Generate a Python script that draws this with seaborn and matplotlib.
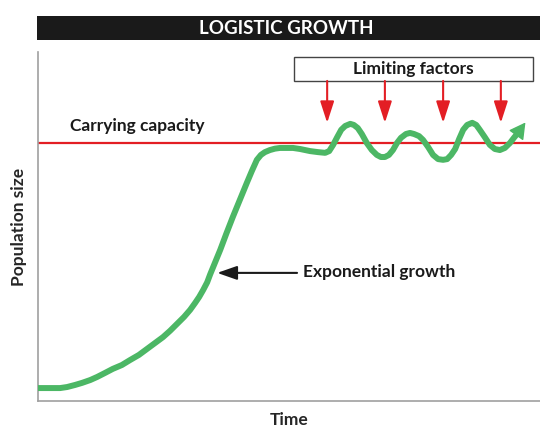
import matplotlib
matplotlib.use('Agg')
import matplotlib.pyplot as plt
from matplotlib.patches import Rectangle
import pandas as pd
import seaborn as sns

# dados (tempo 0-100, tamanho da populacao 0-100)
time = [0.0, 2.8, 4.4, 5.8, 7.4, 8.8, 10.4, 11.8, 13.3, 14.9, 16.7, 18.3, 20.1, 21.7,
        23.3, 24.9, 26.3, 27.7, 29.1, 30.3, 31.3, 32.1, 32.9, 33.7, 34.3, 35.3, 36.3,
        37.5, 38.8, 40.2, 41.6, 42.6, 43.6, 44.4, 45.2, 46.2, 47.2, 48.2, 49.6, 50.8,
        52.2, 54.2, 55.8, 57.2,
        58.0, 58.8, 59.6, 60.4, 61.2, 62.2, 62.9, 63.7, 64.5, 65.5, 66.5, 67.5, 68.3,
        69.1, 69.9, 70.7, 71.5, 72.3, 73.3, 74.1, 74.9, 75.9, 76.7, 77.7, 78.7, 79.7,
        80.7, 81.5, 82.3, 83.1, 83.9, 84.7, 85.5, 86.5, 87.3, 88.0, 89.0, 90.0, 91.0,
        92.0, 93.0, 94.0, 94.8, 95.6]
population = [3.7, 3.7, 3.7, 4.0, 4.6, 5.2, 6.0, 6.9, 8.0, 9.2, 10.3, 11.7, 13.2, 14.9,
              16.6, 18.3, 20.1, 22.1, 24.1, 26.1, 28.1, 29.8, 31.8, 34.0, 36.3, 39.8, 43.3,
              47.9, 52.7, 57.6, 62.5, 65.9, 69.1, 70.5, 71.3, 71.9, 72.3, 72.5, 72.5, 72.5,
              72.2, 71.6, 71.3, 71.1,
              71.6, 73.4, 75.6, 77.7, 78.8, 79.4, 79.1, 78.2, 76.5, 73.9, 71.9, 70.5, 69.9,
              69.9, 70.5, 71.9, 73.9, 75.4, 76.5, 76.8, 76.5, 75.9, 74.8, 72.8, 70.5, 69.3,
              69.1, 69.3, 70.5, 72.2, 75.1, 77.7, 79.1, 79.7, 79.1, 77.7, 75.6, 73.4, 72.2,
              71.9, 72.5, 73.9, 75.4, 76.8]
carrying_capacity = 74
limiting_x = [57.6, 69.1, 80.7, 92.2]

green = '#4CB765'
red = '#E31E24'
font = ['Lato', 'DejaVu Sans']

df = pd.DataFrame({'Time': time, 'Population size': population})

sns.set_style('white')
plt.rcParams['font.family'] = font

fig = plt.figure(figsize=(5.4, 4.32), dpi=100)
ax = fig.add_axes([0.0704, 0.0718, 0.9296, 0.8079])

ax.axhline(carrying_capacity, color=red, lw=1.6, zorder=1)
sns.lineplot(data=df, x='Time', y='Population size', color=green, lw=4.3,
             estimator=None, sort=False, ax=ax, zorder=3)
ax.lines[-1].set_solid_capstyle('round')
ax.lines[-1].set_solid_joinstyle('round')

# ponta de seta no fim da curva
ax.annotate('', xy=(97.1, 79.8), xytext=(time[-1], population[-1]),
            arrowprops=dict(arrowstyle='-|>,head_length=1.0,head_width=0.55',
                            color=green, lw=1, mutation_scale=10,
                            shrinkA=0, shrinkB=0), zorder=4)

ax.set_xlim(0, 100)
ax.set_ylim(0, 100)
ax.set_xticks([])
ax.set_yticks([])
for s in ['top', 'right']:
    ax.spines[s].set_visible(False)
for s in ['left', 'bottom']:
    ax.spines[s].set_color('#A0A0A0')
    ax.spines[s].set_linewidth(1.2)

ax.set_xlabel('Time', fontsize=12.5, fontweight='bold', labelpad=8)
ax.set_ylabel('Population size', fontsize=12.5, fontweight='bold', labelpad=8)

ax.text(6.4, 78.8, 'Carrying capacity', fontsize=12.5, fontweight='bold',
        va='center', ha='left', color='#1a1a1a')

# caixa dos fatores limitantes
ax.add_patch(Rectangle((51.0, 91.7), 47.6, 6.9, fill=False, ec='#444444',
                       lw=1, clip_on=False))
ax.text(74.8, 95.1, 'Limiting factors', fontsize=12.5, fontweight='bold',
        ha='center', va='center', color='#1a1a1a')
for x in limiting_x:
    ax.annotate('', xy=(x, 79.7), xytext=(x, 91.7),
                arrowprops=dict(arrowstyle='-|>,head_length=1.3,head_width=0.42',
                                color=red, lw=1.5, mutation_scale=10,
                                shrinkA=0, shrinkB=0))

# seta do crescimento exponencial
ax.annotate('', xy=(35.7, 36.7), xytext=(51.6, 36.7),
            arrowprops=dict(arrowstyle='-|>,head_length=1.2,head_width=0.42',
                            color='#1a1a1a', lw=1.5, mutation_scale=10,
                            shrinkA=0, shrinkB=0))
ax.text(52.8, 36.9, 'Exponential growth', fontsize=12.5, fontweight='bold',
        ha='left', va='center', color='#1a1a1a')

# barra do titulo
fig.patches.append(Rectangle((0.0685, 0.9074), 0.9315, 0.0556, transform=fig.transFigure,
                             facecolor='#1a1a1a', edgecolor='none', figure=fig))
fig.text(0.5296, 0.935, 'LOGISTIC GROWTH', color='white', fontsize=13.5,
         fontweight='bold', ha='center', va='center')

fig.savefig('out.png', dpi=100)
